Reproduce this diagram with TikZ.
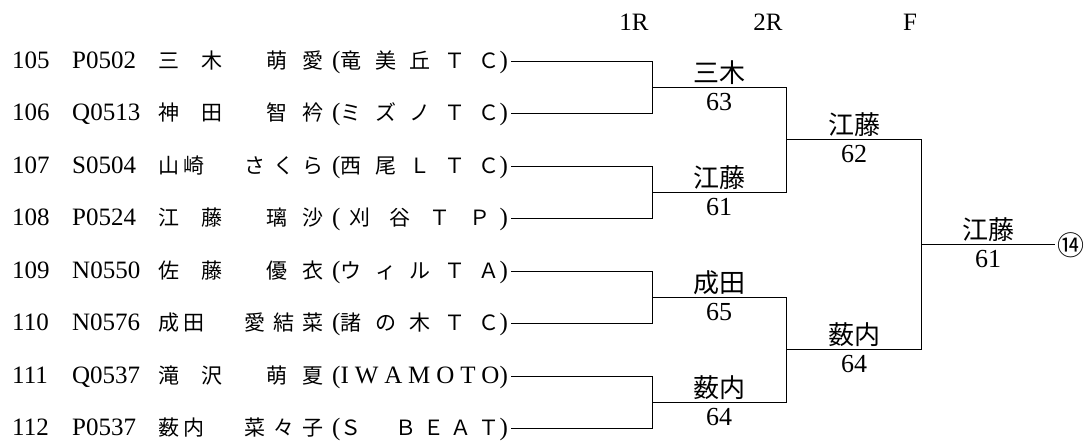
\documentclass[tikz,border=0pt]{standalone}
\usepackage{fontspec}
\setmainfont{Liberation Serif}
\newfontfamily\jp{Noto Sans CJK JP}
\newcommand\rj{\jp\fontsize{21pt}{25pt}\selectfont}
\newcommand\nm[2]{\makebox[#1][s]{\rj #2}}
\newcommand\entry[5]{\makebox[60pt][l]{#1}\makebox[86pt][l]{#2}\makebox[165pt][s]{#3\hfill #4}\hspace{9pt}(\makebox[159pt][s]{#5})}
\begin{document}
\begin{tikzpicture}[x=1pt,y=-1pt,
  rowtext/.style={anchor=base west,inner sep=0pt,font=\fontsize{25pt}{30pt}\selectfont},
  hdr/.style={anchor=base,inner sep=0pt,font=\fontsize{25pt}{30pt}\selectfont},
  winner/.style={anchor=base,inner sep=0pt,font=\jp\fontsize{26pt}{30pt}\selectfont},
  score/.style={anchor=base,inner sep=0pt,font=\fontsize{26pt}{30pt}\selectfont},
  seed/.style={anchor=center,inner sep=0pt,font=\jp\fontsize{27pt}{30pt}\selectfont},
  bracket/.style={line width=1pt,line cap=rect}]
\useasboundingbox[fill=white] (0,0) rectangle (1086,441);

% headers
\node[hdr] (h1) at (634,31) {1R};
\node[hdr] (h2) at (768,31) {2R};
\node[hdr] (h3) at (910,31) {F};

% entries
\node[rowtext] (p1) at (12,68.3) {\entry{105}{P0502}{\nm{64pt}{三\hfill 木}}{\nm{57pt}{萌\hfill 愛}}{\rj 竜\hfill 美\hfill 丘\hfill Ｔ\hfill Ｃ}};
\node[rowtext] (p2) at (12,120.75) {\entry{106}{Q0513}{\nm{64pt}{神\hfill 田}}{\nm{57pt}{智\hfill 衿}}{\rj ミ\hfill ズ\hfill ノ\hfill Ｔ\hfill Ｃ}};
\node[rowtext] (p3) at (12,173.2) {\entry{107}{S0504}{\nm{46pt}{山\hfill 崎}}{\nm{79pt}{さ\hfill く\hfill ら}}{\rj 西\hfill 尾\hfill Ｌ\hfill Ｔ\hfill Ｃ}};
\node[rowtext] (p4) at (12,225.65) {\entry{108}{P0524}{\nm{64pt}{江\hfill 藤}}{\nm{57pt}{璃\hfill 沙}}{\rj\hfill 刈\hfill\hfill 谷\hfill\hfill Ｔ\hfill\hfill Ｐ\hfill}};
\node[rowtext] (p5) at (12,278.1) {\entry{109}{N0550}{\nm{64pt}{佐\hfill 藤}}{\nm{57pt}{優\hfill 衣}}{\rj ウ\hfill ィ\hfill ル\hfill Ｔ\hfill Ａ}};
\node[rowtext] (p6) at (12,330.55) {\entry{110}{N0576}{\nm{46pt}{成\hfill 田}}{\nm{79pt}{愛\hfill 結\hfill 菜}}{\rj 諸\hfill の\hfill 木\hfill Ｔ\hfill Ｃ}};
\node[rowtext] (p7) at (12,383) {\entry{111}{Q0537}{\nm{64pt}{滝\hfill 沢}}{\nm{57pt}{萌\hfill 夏}}{I\hfill W\hfill A\hfill M\hfill O\hfill T\hfill O}};
\node[rowtext] (p8) at (12,435.45) {\entry{112}{P0537}{\nm{46pt}{薮\hfill 内}}{\nm{79pt}{菜\hfill 々\hfill 子}}{\rj Ｓ\hfill 　\hfill Ｂ\hfill Ｅ\hfill Ａ\hfill Ｔ}};

% bracket points
\coordinate (e1) at (652,61.3);
\coordinate (e2) at (652,113.75);
\coordinate (e3) at (652,166.2);
\coordinate (e4) at (652,218.65);
\coordinate (e5) at (652,271.1);
\coordinate (e6) at (652,323.55);
\coordinate (e7) at (652,376);
\coordinate (e8) at (652,428.45);
\coordinate (m1) at (652,87.5);   \coordinate (n1) at (786,87.5);
\coordinate (m2) at (652,192.4);  \coordinate (n2) at (786,192.4);
\coordinate (m3) at (652,297.3);  \coordinate (n3) at (786,297.3);
\coordinate (m4) at (652,402.2);  \coordinate (n4) at (786,402.2);
\coordinate (q1) at (786,139.95); \coordinate (s1) at (921,139.95);
\coordinate (q2) at (786,349.75); \coordinate (s2) at (921,349.75);
\coordinate (t) at (921,244.85);  \coordinate (u) at (1054,244.85);

% first round
\draw[bracket] ([xshift=3pt]p1.east |- e1) -- (e1) -- (e2) -- ([xshift=3pt]p2.east |- e2);
\draw[bracket] ([xshift=3pt]p3.east |- e3) -- (e3) -- (e4) -- ([xshift=3pt]p4.east |- e4);
\draw[bracket] ([xshift=3pt]p5.east |- e5) -- (e5) -- (e6) -- ([xshift=3pt]p6.east |- e6);
\draw[bracket] ([xshift=3pt]p7.east |- e7) -- (e7) -- (e8) -- ([xshift=3pt]p8.east |- e8);
\draw[bracket] (m1) -- (n1);
\draw[bracket] (m2) -- (n2);
\draw[bracket] (m3) -- (n3);
\draw[bracket] (m4) -- (n4);
% second round
\draw[bracket] (n1) -- (n2);
\draw[bracket] (n3) -- (n4);
\draw[bracket] (q1) -- (s1);
\draw[bracket] (q2) -- (s2);
% final
\draw[bracket] (s1) -- (s2);
\draw[bracket] (t) -- (u);

% results
\node[winner] (w1) at (719,82.5) {三木};
\node[score] (c1) at (719,110.5) {63};
\node[winner] (w2) at (719,187.4) {江藤};
\node[score] (c2) at (719,215.4) {61};
\node[winner] (w3) at (719,292.3) {成田};
\node[score] (c3) at (719,320.3) {65};
\node[winner] (w4) at (719,397.2) {薮内};
\node[score] (c4) at (719,425.2) {64};
\node[winner] (w5) at (854,134.95) {江藤};
\node[score] (c5) at (854,162.95) {62};
\node[winner] (w6) at (854,344.75) {薮内};
\node[score] (c6) at (854,372.75) {64};
\node[winner] (w7) at (988,239.85) {江藤};
\node[score] (c7) at (988,267.85) {61};
\node[seed] (sd) at (1071,245.5) {⑭};
\end{tikzpicture}
\end{document}
